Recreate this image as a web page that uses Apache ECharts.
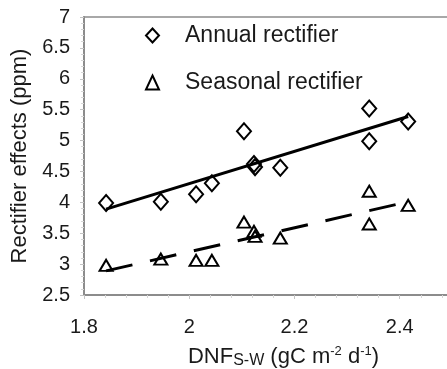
<!DOCTYPE html>
<html>
<head>
<meta charset="utf-8">
<script src="https://cdn.jsdelivr.net/npm/echarts@6/dist/echarts.min.js"></script>
<style>html,body{margin:0;padding:0;background:#fff}#c{width:447px;height:369px}</style>
</head>
<body>
<div id="c"></div>
<script>
// DNF_S-W values (x) and rectifier effects (ppm)
const annualX = [1.842, 1.946, 2.013, 2.043, 2.104, 2.123, 2.125, 2.173, 2.342, 2.342, 2.416];
const annualY = [3.99, 4.01, 4.13, 4.31, 5.15, 4.62, 4.57, 4.56, 5.52, 4.99, 5.31];
const seasonalX = [1.842, 1.946, 2.013, 2.043, 2.104, 2.123, 2.125, 2.173, 2.342, 2.342, 2.416];
const seasonalY = [2.98, 3.08, 3.06, 3.06, 3.68, 3.53, 3.45, 3.42, 4.18, 3.65, 3.95];
const fitX = [1.842, 2.416];
const annualFit = [3.89, 5.39];
const seasonalFit = [2.89, 4.01];
const xTicks = [1.8, 2.0, 2.2, 2.4];
const yTicks = [2.5, 3, 3.5, 4, 4.5, 5, 5.5, 6, 6.5, 7];
const legendNames = ['Annual rectifier', 'Seasonal rectifier'];

const zip = (xs, ys) => xs.map((x, i) => [x, ys[i]]);
const FONT = '"Liberation Sans", Arial, sans-serif';
const TXT = '#1a1a1a';
const AX = '#8c8c8c';

const chart = echarts.init(document.getElementById('c'), null, {renderer: 'canvas'});
chart.setOption({
  animation: false,
  backgroundColor: '#fff',
  grid: {left: 84, top: 17, bottom: 74, right: -58, show: true, borderColor: AX, borderWidth: 1.5,
         containLabel: false, outerBoundsMode: 'none'},
  legend: {
    orient: 'vertical', left: 140, top: 19, itemGap: 24,
    itemWidth: 13, itemHeight: 14,
    data: [{name: legendNames[0], icon: 'diamond'}, {name: legendNames[1], icon: 'triangle'}],
    textStyle: {fontFamily: FONT, fontSize: 23, color: TXT, padding: [0, 0, 0, 21]},
    selectedMode: false
  },
  xAxis: {
    type: 'value', min: xTicks[0], max: 2.6, interval: 0.2,
    axisLine: {lineStyle: {color: AX, width: 2}},
    axisTick: {show: true, length: 4, lineStyle: {color: '#c4c4c4'}},
    minorTick: {show: true, splitNumber: 5, length: 3, lineStyle: {color: '#d6d6d6'}},
    splitLine: {show: false},
    axisLabel: {fontFamily: FONT, fontSize: 20, color: TXT, margin: 22, showMaxLabel: false},
    name: '{m|DNF}{sub|S-W}{m| (gC m}{sup|-2}{m| d}{sup|-1}{m|)}',
    nameLocation: 'middle', nameGap: 50,
    nameTextStyle: {
      padding: [0, 22, 0, 0],
      rich: {
        m: {fontFamily: FONT, fontSize: 22, color: TXT},
        sub: {fontFamily: FONT, fontSize: 16, color: TXT, verticalAlign: 'bottom', padding: [8, 0, 0, 0]},
        sup: {fontFamily: FONT, fontSize: 13, color: TXT, verticalAlign: 'top', padding: [0, 0, 10, 0]}
      }
    }
  },
  yAxis: {
    type: 'value', min: yTicks[0], max: yTicks[yTicks.length - 1], interval: 0.5,
    axisLine: {show: true, lineStyle: {color: AX, width: 2}},
    axisTick: {show: true, length: 4, lineStyle: {color: '#c4c4c4'}},
    minorTick: {show: true, splitNumber: 5, length: 3, lineStyle: {color: '#d6d6d6'}},
    splitLine: {show: false},
    axisLabel: {fontFamily: FONT, fontSize: 20, color: TXT, margin: 14},
    name: 'Rectifier effects (ppm)',
    nameLocation: 'middle', nameGap: 53,
    nameTextStyle: {fontFamily: FONT, fontSize: 22, color: TXT}
  },
  series: [
    {
      name: 'Annual fit', type: 'line', data: zip(fitX, annualFit), showSymbol: false, symbol: 'none',
      lineStyle: {color: '#000', width: 3}, z: 2, silent: true
    },
    {
      name: 'Seasonal fit', type: 'line', data: zip(fitX, seasonalFit), showSymbol: false, symbol: 'none',
      lineStyle: {color: '#000', width: 3, type: [27, 18]}, z: 2, silent: true
    },
    {
      name: legendNames[0], type: 'scatter', data: zip(annualX, annualY),
      symbol: 'diamond', symbolSize: [14, 16],
      itemStyle: {color: 'rgba(255,255,255,0)', borderColor: '#000', borderWidth: 2, opacity: 1}, z: 3
    },
    {
      name: legendNames[1], type: 'scatter', data: zip(seasonalX, seasonalY),
      symbol: 'triangle', symbolSize: [13, 11],
      itemStyle: {color: 'rgba(255,255,255,0)', borderColor: '#000', borderWidth: 2, opacity: 1}, z: 3
    }
  ]
});
</script>
</body>
</html>
